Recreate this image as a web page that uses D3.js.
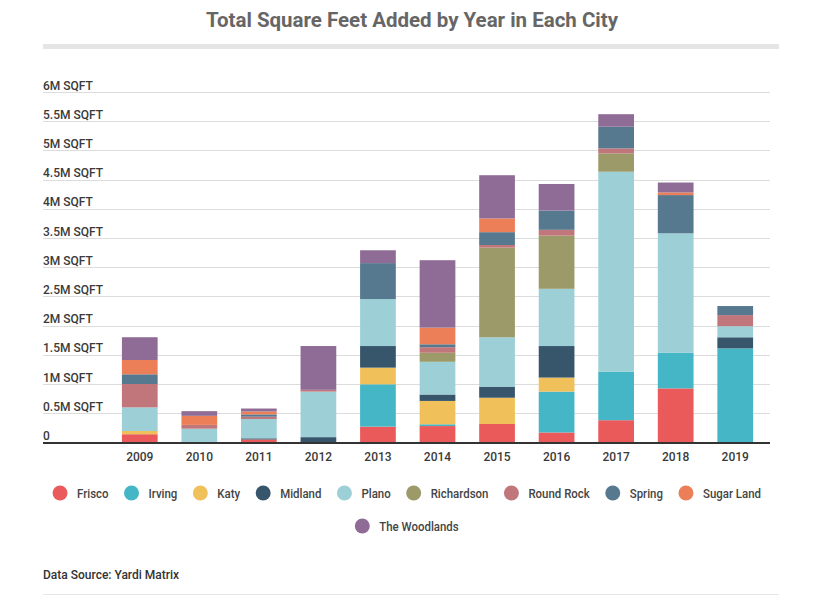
<!DOCTYPE html>
<html>
<head>
<meta charset="utf-8">
<script src="https://cdn.jsdelivr.net/npm/d3@7"></script>
<style>
  html, body { margin: 0; padding: 0; background: #ffffff; }
  svg { display: block; font-family: Roboto, "Noto Sans", sans-serif; }
</style>
</head>
<body>
<svg id="chart" width="830" height="598"></svg>
<script>
// ---- Data (values in millions of square feet) ----
const years = ["2009", "2010", "2011", "2012", "2013", "2014", "2015", "2016", "2017", "2018", "2019"];
const cities = ["Frisco", "Irving", "Katy", "Midland", "Plano", "Richardson", "Round Rock", "Spring", "Sugar Land", "The Woodlands"];
const frisco     = [0.14, 0,     0.05, 0,    0.27,  0.28,  0.315, 0.17,  0.38,  0.925, 0];
const irving     = [0,    0,     0,    0,    0.725, 0.03,  0,     0.70,  0.83,  0.61,  1.61];
const katy       = [0.055,0,     0,    0,    0.285, 0.40,  0.45,  0.24,  0,     0,     0];
const midland    = [0,    0,     0.02, 0.09, 0.37,  0.11,  0.19,  0.54,  0,     0,     0.19];
const plano      = [0.405,0.235, 0.33, 0.78, 0.805, 0.56,  0.845, 0.98,  3.425, 2.045, 0.19];
const richardson = [0,    0,     0,    0,    0,     0.155, 1.535, 0.91,  0.315, 0,     0];
const roundRock  = [0.40, 0.065, 0.04, 0.03, 0,     0.095, 0.045, 0.10,  0.085, 0,     0.19];
const spring     = [0.166,0,     0.04, 0,    0.615, 0.05,  0.22,  0.33,  0.37,  0.655, 0.155];
const sugarLand  = [0.245,0.155, 0.05, 0,    0,     0.285, 0.235, 0,     0,     0.045, 0];
const woodlands  = [0.39, 0.08,  0.05, 0.75, 0.22,  1.155, 0.74,  0.455, 0.215, 0.17,  0];
const yTicks = [0, 0.5, 1, 1.5, 2, 2.5, 3, 3.5, 4, 4.5, 5, 5.5, 6];
const yTickLabels = ["0", "0.5M SQFT", "1M SQFT", "1.5M SQFT", "2M SQFT", "2.5M SQFT", "3M SQFT", "3.5M SQFT", "4M SQFT", "4.5M SQFT", "5M SQFT", "5.5M SQFT", "6M SQFT"];
const colors = ["#eb5a5b", "#45b6c5", "#f0c05a", "#37566b", "#9dcfd7", "#9b9a68", "#c0767a", "#56798f", "#ec7f57", "#8f6c95"];

const seriesValues = [frisco, irving, katy, midland, plano, richardson, roundRock, spring, sugarLand, woodlands];
const table = years.map((yr, i) => {
  const row = { year: yr };
  cities.forEach((c, j) => { row[c] = seriesValues[j][i]; });
  return row;
});

const svg = d3.select("#chart");

// Title
svg.append("text")
  .attr("x", 412).attr("y", 27)
  .attr("text-anchor", "middle")
  .attr("font-size", 20).attr("font-weight", 700)
  .attr("fill", "#666666")
  .attr("textLength", 412).attr("lengthAdjust", "spacingAndGlyphs")
  .text("Total Square Feet Added by Year in Each City");

svg.append("rect")
  .attr("x", 43).attr("y", 44).attr("width", 736).attr("height", 5)
  .attr("fill", "#e5e5e5");

// Scales
const y = d3.scaleLinear().domain([0, 6]).range([442.4, 92]);
const x = d3.scaleBand().domain(years).range([110, 765]).paddingInner(0.4).paddingOuter(0.2);
const color = d3.scaleOrdinal().domain(cities).range(colors);

// Gridlines + y labels
const grid = svg.append("g");
grid.selectAll("line").data(yTicks.filter(t => t > 0)).join("line")
  .attr("x1", 43).attr("x2", 770)
  .attr("y1", d => Math.round(y(d)) + 0.5).attr("y2", d => Math.round(y(d)) + 0.5)
  .attr("stroke", "#dcdcdc").attr("stroke-width", 1);

svg.append("g").selectAll("text").data(yTicks).join("text")
  .attr("x", 43).attr("y", d => y(d) - 2.5)
  .attr("font-size", 12).attr("font-weight", 500).attr("fill", "#3a3a3a")
  .text((d, i) => yTickLabels[i]);

// Bars
const stack = d3.stack().keys(cities);
const layers = stack(table);
svg.append("g").selectAll("g").data(layers).join("g")
  .attr("fill", d => color(d.key))
  .selectAll("rect").data(d => d).join("rect")
  .attr("x", d => x(d.data.year))
  .attr("width", x.bandwidth())
  .attr("y", d => y(d[1]))
  .attr("height", d => Math.max(0, y(d[0]) - y(d[1])));

// Baseline axis
svg.append("line")
  .attr("x1", 43).attr("x2", 770)
  .attr("y1", y(0) + 0.5).attr("y2", y(0) + 0.5)
  .attr("stroke", "#333333").attr("stroke-width", 2);

// X axis labels
const xAxis = d3.axisBottom(x).tickSize(0).tickPadding(10);
const xg = svg.append("g").attr("transform", `translate(0,${y(0)})`).call(xAxis);
xg.select(".domain").remove();
xg.selectAll("text")
  .attr("font-family", "Roboto, sans-serif")
  .attr("font-size", 12).attr("font-weight", 500).attr("fill", "#3a3a3a");

// Legend
function legendRow(items, cy) {
  const g = svg.append("g");
  let cx = 0;
  const placed = [];
  items.forEach(name => {
    const t = g.append("text")
      .attr("font-size", 13).attr("font-weight", 500).attr("fill", "#444444")
      .attr("dy", "0.35em").text(name);
    const w = t.node().getComputedTextLength() * 0.88;
    t.attr("textLength", w).attr("lengthAdjust", "spacingAndGlyphs");
    placed.push({ name, t, cx, w });
    cx += 17 + w + 23;
  });
  const total = cx - 23 + 7;
  const start = 407 - total / 2 + 7;
  placed.forEach(p => {
    g.append("circle")
      .attr("cx", start + p.cx).attr("cy", cy).attr("r", 7.5)
      .attr("fill", color(p.name));
    p.t.attr("x", start + p.cx + 17).attr("y", cy);
  });
}
legendRow(cities.slice(0, 9), 493);
legendRow(cities.slice(9), 526);

// Source
svg.append("text")
  .attr("x", 43).attr("y", 579)
  .attr("font-size", 12).attr("font-weight", 500).attr("fill", "#333333")
  .text("Data Source: Yardi Matrix");

svg.append("line")
  .attr("x1", 43).attr("x2", 779).attr("y1", 594.5).attr("y2", 594.5)
  .attr("stroke", "#e6e6e6").attr("stroke-width", 1);
</script>
</body>
</html>
